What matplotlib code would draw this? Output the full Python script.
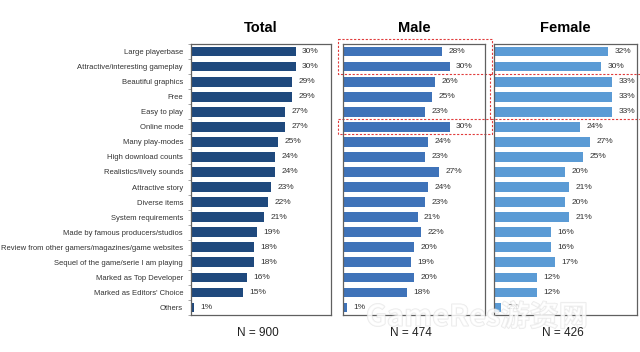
import matplotlib
matplotlib.use("Agg")
import matplotlib.pyplot as plt
import matplotlib.patheffects as pe
from matplotlib.patches import Rectangle

# Data setup
categories = ['Large playerbase', 'Attractive/interesting gameplay', 'Beautiful graphics', 'Free',
              'Easy to play', 'Online mode', 'Many play-modes', 'High download counts',
              'Realistics/lively sounds', 'Attractive story', 'Diverse items', 'System requirements',
              'Made by famous producers/studios', 'Review from other gamers/magazines/game websites',
              'Sequel of the game/serie I am playing', 'Marked as Top Developer',
              "Marked as Editors' Choice", 'Others']
total = [30, 30, 29, 29, 27, 27, 25, 24, 24, 23, 22, 21, 19, 18, 18, 16, 15, 1]
male = [28, 30, 26, 25, 23, 30, 24, 23, 27, 24, 23, 21, 22, 20, 19, 20, 18, 1]
female = [32, 30, 33, 33, 33, 24, 27, 25, 20, 21, 20, 21, 16, 16, 17, 12, 12, 2]
titles = ['Total', 'Male', 'Female']
sample_sizes = ['N = 900', 'N = 474', 'N = 426']

label_font = ['Liberation Sans', 'DejaVu Sans']
colors = ['#1f497d', '#3f73b9', '#5b9bd5']
panels = [(0.298, 0.219), (0.536, 0.222), (0.772, 0.223)]

fig = plt.figure(figsize=(6.4, 3.52), dpi=100)
axes = []
for (left, width), values, color, title, n in zip(panels, [total, male, female], colors, titles, sample_sizes):
    ax = fig.add_axes([left, 0.105, width, 0.770])
    y = range(len(categories))
    ax.barh(y, values, height=0.65, color=color)
    for yi, v in zip(y, values):
        ax.text(v + 1.8, yi, f'{v}%', va='center', ha='left', fontsize=6, family=label_font, color='#333333')
    ax.set_xlim(0, 40)
    ax.set_ylim(len(categories) - 0.5, -0.5)
    ax.set_xticks([])
    for s in ax.spines.values():
        s.set_color('#606060')
        s.set_linewidth(0.9)
    ax.set_title(title, fontsize=10.5, fontweight='bold', family=label_font, pad=9)
    fig.text(left + width * 0.48, 0.055, n, ha='center', va='center', fontsize=8.5,
             family=label_font, color='#222222', zorder=6)
    axes.append(ax)

ax_total, ax_male, ax_female = axes
ax_total.set_yticks(range(len(categories)))
ax_total.set_yticklabels(categories, fontsize=5.5, family=label_font, color='#333333')
ax_total.tick_params(axis='y', length=0, pad=5.5)
ax_total.set_yticks([i + 0.5 for i in range(-1, len(categories))], minor=True)
ax_total.tick_params(axis='y', which='minor', length=2, color='#999999')
for ax in (ax_male, ax_female):
    ax.set_yticks([])

# red dashed highlight boxes
box_style = dict(fill=False, edgecolor='#e03c3c', linestyle=(0, (2, 1.5)), linewidth=0.8, clip_on=False)
ax_male.add_patch(Rectangle((-1.4, -0.85), 43.4, 2.35, **box_style))
ax_male.add_patch(Rectangle((-1.4, 4.45), 43.4, 1.05, **box_style))
ax_female.add_patch(Rectangle((-1.2, 1.5), 45, 2.95, **box_style))

# watermark
fig.text(0.745, 0.1, 'GameRes游资网', ha='center', va='center', fontsize=21, fontweight='bold',
         family=['Noto Sans CJK SC', 'DejaVu Sans'], color='white', alpha=0.6, zorder=5,
         path_effects=[pe.withStroke(linewidth=1.0, foreground='#dcdcdc')])

fig.savefig('out.png', dpi=100)
